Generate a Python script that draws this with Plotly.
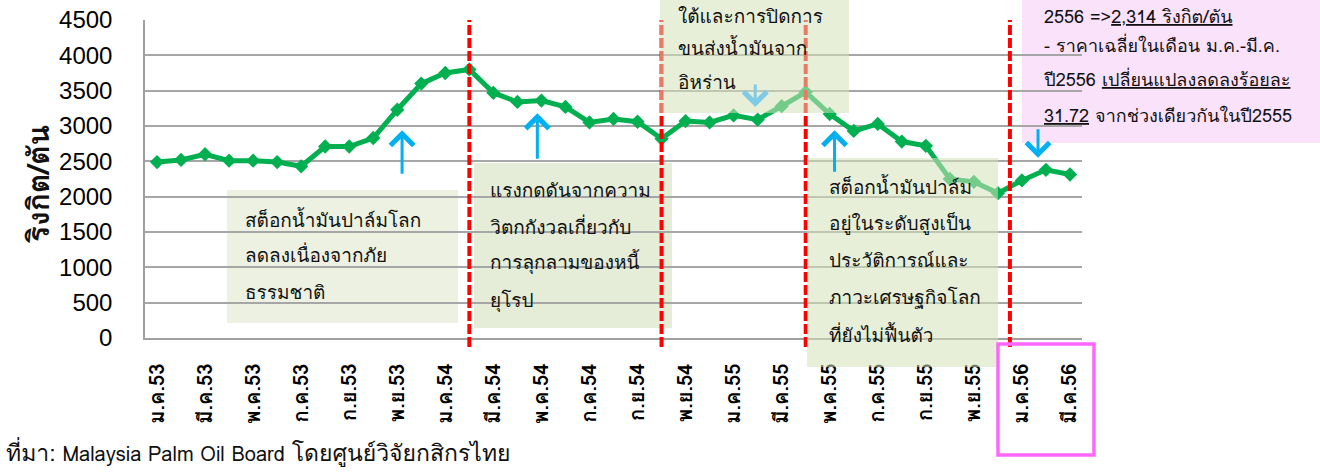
import plotly.graph_objects as go

# ---- data ----
months = [
    "ม.ค.53", "ก.พ.53", "มี.ค.53", "เม.ย.53", "พ.ค.53", "มิ.ย.53", "ก.ค.53", "ส.ค.53", "ก.ย.53", "ต.ค.53", "พ.ย.53", "ธ.ค.53",
    "ม.ค.54", "ก.พ.54", "มี.ค.54", "เม.ย.54", "พ.ค.54", "มิ.ย.54", "ก.ค.54", "ส.ค.54", "ก.ย.54", "ต.ค.54", "พ.ย.54", "ธ.ค.54",
    "ม.ค.55", "ก.พ.55", "มี.ค.55", "เม.ย.55", "พ.ค.55", "มิ.ย.55", "ก.ค.55", "ส.ค.55", "ก.ย.55", "ต.ค.55", "พ.ย.55", "ธ.ค.55",
    "ม.ค.56", "ก.พ.56", "มี.ค.56",
]
price = [
    2490, 2520, 2600, 2510, 2510, 2490, 2430, 2710, 2710, 2830, 3230, 3600,
    3750, 3800, 3470, 3340, 3360, 3270, 3050, 3100, 3060, 2820, 3070, 3050,
    3150, 3090, 3280, 3480, 3170, 2930, 3030, 2780, 2720, 2250, 2210, 2050,
    2230, 2380, 2314,
]
tick_labels = months[::2]
y_ticks = [0, 500, 1000, 1500, 2000, 2500, 3000, 3500, 4000, 4500]

# event markers (category index) and notes
event_lines = [13, 21, 27, 35.5]
note1 = ["สต็อกน้ำมันปาล์มโลก", "ลดลงเนื่องจากภัย", "ธรรมชาติ"]
note2 = ["แรงกดดันจากความ", "วิตกกังวลเกี่ยวกับ", "การลุกลามของหนี้", "ยุโรป"]
note3 = ["ใต้และการปิดการ", "ขนส่งน้ำมันจาก", "อิหร่าน"]
note4 = ["สต็อกน้ำมันปาล์ม", "อยู่ในระดับสูงเป็น", "ประวัติการณ์และ", "ภาวะเศรษฐกิจโลก", "ที่ยังไม่ฟื้นตัว"]
note5 = ["2556 =><u>2,314 ริงกิต/ตัน</u>", "- ราคาเฉลี่ยในเดือน ม.ค.-มี.ค.",
         "ปี2556 <u>เปลี่ยนแปลงลดลงร้อยละ</u>", "<u>31.72</u> จากช่วงเดียวกันในปี2555"]
y_title = "ริงกิต/ตัน"
source_head = "ที่มา:"
source_latin = "Malaysia Palm Oil Board"
source_thai = "โดยศูนย์วิจัยกสิกรไทย"

THAI = "Tahoma, Loma, Garuda, 'Noto Sans Thai', 'Noto Sans', sans-serif"
GREEN = "#00B050"
BLUE = "#00B0F0"

W, H = 1320, 472
L, R, T, B = 145, 1082, 20, 338


def px(x):
    return (x - L) / (R - L)


def py(y):
    return (B - y) / (B - T)


fig = go.Figure()
fig.add_trace(go.Scatter(
    x=months, y=price, mode="lines+markers",
    line=dict(color=GREEN, width=5),
    marker=dict(symbol="diamond", size=11, color=GREEN),
    showlegend=False, hoverinfo="x+y",
))

shapes = []
# boxes under the grid
for (x0, x1, y0, y1, col) in [
    (227, 458, 190, 323, "rgb(236,241,225)"),
    (474, 672, 163, 328, "rgb(229,236,215)"),
    (1022, 1320, 0, 143, "rgb(251,226,251)"),
]:
    shapes.append(dict(type="rect", xref="paper", yref="paper",
                       x0=px(x0), x1=px(x1), y0=py(y1), y1=py(y0),
                       fillcolor=col, line=dict(width=0), layer="below"))
# red dashed event lines
for xi in event_lines:
    shapes.append(dict(type="line", xref="x", yref="paper", x0=xi, x1=xi,
                       y0=py(347), y1=1, line=dict(color="#FF0000", width=4, dash="10px,3px"),
                       layer="above"))
# semi transparent boxes over the line
for (x0, x1, y0, y1) in [(660, 849, 0, 113), (807, 998, 158, 367)]:
    shapes.append(dict(type="rect", xref="paper", yref="paper",
                       x0=px(x0), x1=px(x1), y0=py(y1), y1=py(y0),
                       fillcolor="rgb(212,226,186)", opacity=0.55,
                       line=dict(width=0), layer="above"))
# magenta frame around latest labels
shapes.append(dict(type="rect", xref="paper", yref="paper",
                   x0=px(998), x1=px(1094), y0=py(455), y1=py(344),
                   line=dict(color="#FF66FF", width=3.5), fillcolor="rgba(0,0,0,0)"))

ann = []


def note(lines, x, ys, size=19):
    for t, y in zip(lines, ys):
        ann.append(dict(text=t, xref="paper", yref="paper", x=px(x), y=py(y),
                        xanchor="left", yanchor="middle", showarrow=False,
                        font=dict(family=THAI, size=size, color="#111111")))


note(note1, 243, [220, 255, 292])
note(note2, 488, [190, 227, 262, 300])
note(note3, 676, [16, 48, 82])
note(note4, 827, [187, 223, 260, 297, 335])
note(note5, 1042, [16, 46, 80, 115], size=18)

# arrows (tip in data coords, tail offset in px)
for (xi, yv, ay, col) in [
    (10.2, 2940, 45, BLUE),
    (15.83, 3180, 47, BLUE),
    (24.9, 3270, -24, "#7FCBE6"),
    (28.2, 2940, 43, BLUE),
    (36.67, 2550, -30, BLUE),
]:
    ann.append(dict(x=xi, y=yv, xref="x", yref="y", ax=0, ay=ay, axref="pixel", ayref="pixel",
                    text="", showarrow=True, arrowhead=4, arrowsize=1.5, arrowwidth=3,
                    arrowcolor=col, standoff=0))

ann.append(dict(text=y_title, xref="paper", yref="paper", x=px(38), y=py(185),
                textangle=-90, showarrow=False, xanchor="center", yanchor="middle",
                font=dict(family=THAI, size=30, color="#111111", weight="bold")))
ann.append(dict(text="<span style='font-size:23px'>" + source_head + "</span> " + source_latin
                + " <span style='font-size:23px'>" + source_thai + "</span>",
                xref="paper", yref="paper", x=px(4), y=py(453),
                xanchor="left", yanchor="middle", showarrow=False,
                font=dict(family=THAI, size=20, color="#111111")))

fig.update_layout(
    width=W, height=H,
    margin=dict(l=L, r=W - R, t=T, b=H - B, pad=0, autoexpand=False),
    paper_bgcolor="white", plot_bgcolor="rgba(0,0,0,0)",
    shapes=shapes, annotations=ann,
    xaxis=dict(type="category", categoryorder="array", categoryarray=months,
               range=[-0.5, len(months) - 0.5], automargin=False,
               tickmode="array", tickvals=tick_labels, ticktext=tick_labels,
               tickangle=-90, ticklabelstandoff=16,
               tickfont=dict(family=THAI, size=20, color="#000000", weight="bold"),
               showgrid=False, showline=True, linecolor="#A0A0A0", linewidth=1.5,
               ticks="", zeroline=False),
    yaxis=dict(range=[0, 4500], tickmode="array", tickvals=y_ticks, automargin=False,
               tickfont=dict(family="Arial, 'Liberation Sans', sans-serif", size=24, color="#000000"),
               ticklabelstandoff=26,
               showgrid=True, gridcolor="#A6A6A6", gridwidth=1.5,
               showline=True, linecolor="#A0A0A0", linewidth=1.5,
               ticks="", zeroline=False),
)

fig.write_html("out.html", config={"displayModeBar": False},
               post_script="document.body.style.margin='0';document.body.style.overflow='hidden';")
